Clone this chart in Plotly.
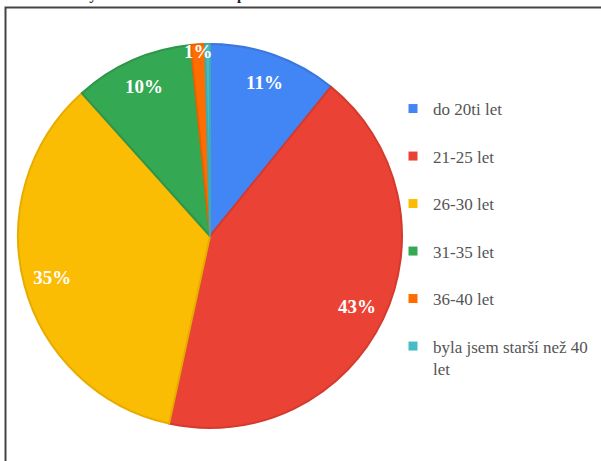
import plotly.graph_objects as go

# age of respondent at birth of first child
title = "Kolik Vám bylo let v době narození prvního dítěte"
labels = ["do 20ti let", "21-25 let", "26-30 let", "31-35 let", "36-40 let",
          "byla jsem starší než 40<br>let"]
counts = [27, 106, 87, 25, 3, 1]
colors = ["#4285F4", "#EA4335", "#FBBC04", "#34A853", "#FF6D01", "#46BDC6"]
edges = ["#3B77DC", "#D43B2E", "#E6AC00", "#2E954A", "#E86300", "#3EAAB2"]

W, H = 601, 461
SERIF = "Times New Roman, Liberation Serif, serif"
total = sum(counts)
text = [f"{c / total:.0%}" if c / total >= 0.005 else "" for c in counts]
pie_domain = dict(x=[18 / W, 402 / W], y=[1 - 429 / H, 1 - 43 / H])

fig = go.Figure()
fig.add_trace(go.Pie(
    labels=labels,
    values=counts,
    textinfo="none",
    marker=dict(colors=colors, line=dict(color=edges, width=2)),
    sort=False,
    direction="clockwise",
    rotation=0,
    showlegend=False,
    hoverinfo="label+percent",
    domain=pie_domain,
))
# transparent ring on top, only to carry the percentages near the rim
fig.add_trace(go.Pie(
    labels=labels,
    values=counts,
    text=text,
    textinfo="text",
    textposition="inside",
    insidetextorientation="horizontal",
    insidetextfont=dict(family=SERIF, size=19, color="white", weight="bold"),
    marker=dict(colors=["rgba(0,0,0,0)"] * len(counts), line=dict(width=0)),
    hole=0.7,
    sort=False,
    direction="clockwise",
    rotation=0,
    showlegend=False,
    hoverinfo="skip",
    domain=pie_domain,
))

# legend entries (one group each so the items get spaced out)
for i, (name, col) in enumerate(zip(labels, colors)):
    fig.add_trace(go.Scatter(
        x=[None], y=[None],
        mode="markers",
        name=name,
        legendgroup=str(i),
        marker=dict(symbol="square", size=9, color=col),
    ))

fig.add_annotation(
    text=f"<b>{title}</b>",
    xref="paper", yref="paper", x=5 / W, y=1,
    xanchor="left", yanchor="bottom", yshift=-5,
    showarrow=False,
    font=dict(family=SERIF, size=15, color="#222"),
)
fig.add_shape(
    type="rect", xref="paper", yref="paper",
    x0=5.5 / W, x1=1.05, y0=-0.05, y1=1 - 7.5 / H,
    line=dict(color="#444", width=2),
)

fig.update_layout(
    width=W,
    height=H,
    margin=dict(l=0, r=0, t=0, b=0),
    paper_bgcolor="white",
    plot_bgcolor="white",
    xaxis=dict(visible=False),
    yaxis=dict(visible=False),
    uniformtext=dict(minsize=19, mode="show"),
    legend=dict(
        x=393 / W, y=1 - 91 / H, xanchor="left", yanchor="top",
        font=dict(family=SERIF, size=17, color="#555"),
        tracegroupgap=22.4,
        valign="top",
        bgcolor="rgba(0,0,0,0)",
    ),
)

# drop the default 8px body margin so the figure sits at the page corner
fig.write_html(
    "out.html",
    config={"displayModeBar": False},
    post_script="document.body.style.margin='0';",
)
